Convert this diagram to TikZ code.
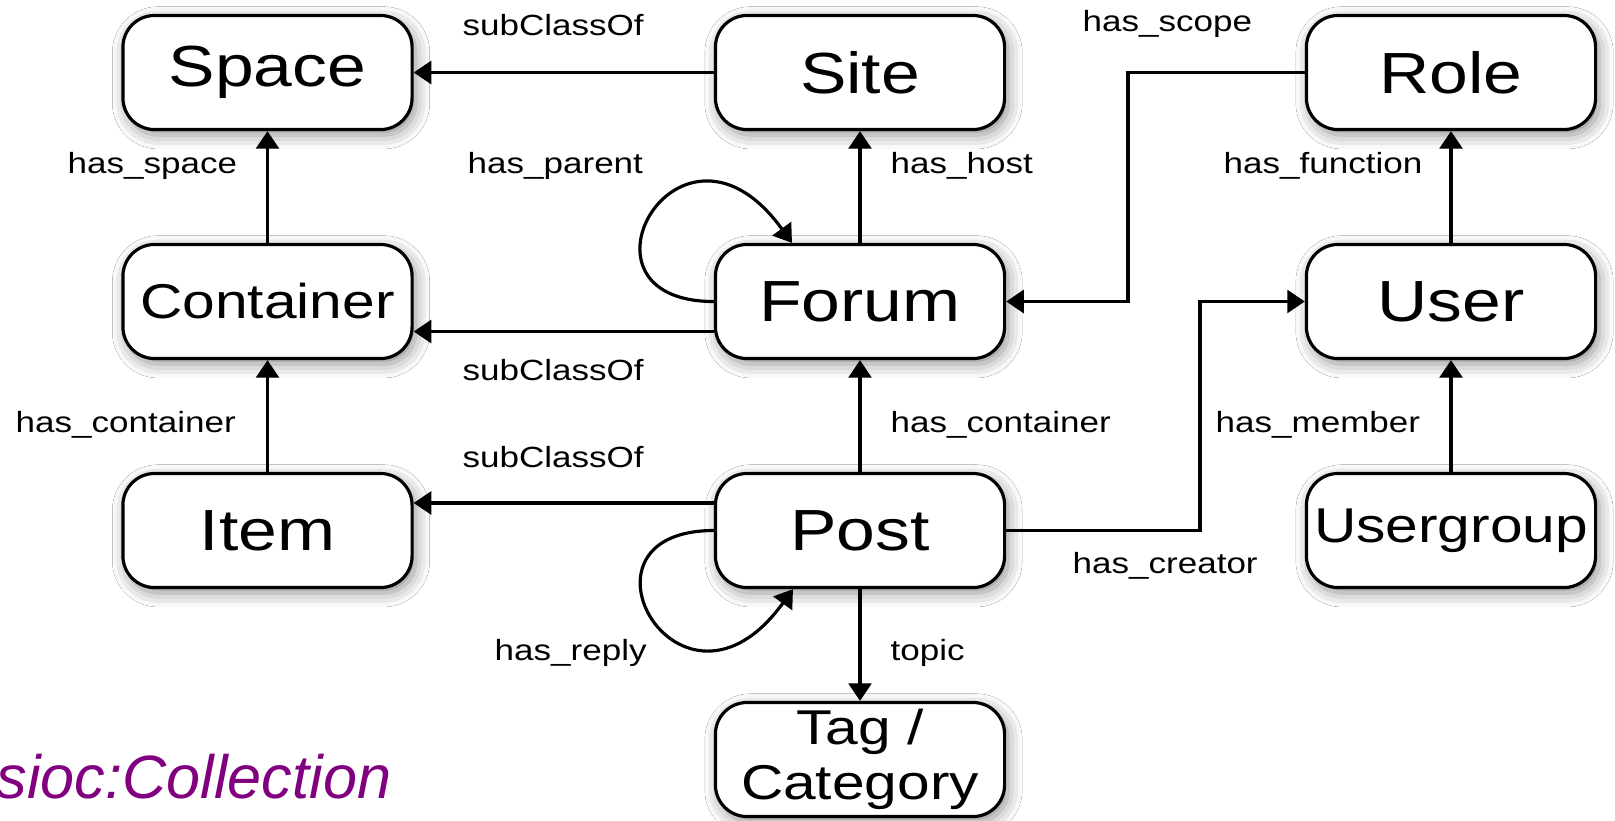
\documentclass[tikz,border=0pt]{standalone}
\usepackage{fontspec}
\setmainfont{Liberation Sans}[FakeStretch=1.2]
\newfontfamily\collfont{Liberation Sans}
\usetikzlibrary{arrows.meta,shadows.blur}

\definecolor{siocpurple}{RGB}{128,0,128}

\tikzset{
  cls/.style={draw,rounded corners=9pt,line width=0.9pt,fill=white,
    minimum width=2.89cm,minimum height=1.14cm,inner sep=0pt,
    font=\fontsize{16.5}{19}\selectfont,
    blur shadow={shadow xshift=1pt,shadow yshift=-1.5pt,
      shadow blur radius=4pt,shadow opacity=45}},
  clssmall/.style={cls,font=\fontsize{13.9}{15.6}\selectfont},
  rel/.style={font=\fontsize{8.3}{10}\selectfont,anchor=base west,inner sep=0pt},
  arr/.style={line width=0.9pt,-{Triangle[length=5pt,width=6.5pt]}}
}

\begin{document}
\begin{tikzpicture}[x=0.01cm,y=-0.01cm]
  \path[use as bounding box,fill=white] (0,0) rectangle (1615,820);

  % classes
  \node[cls] (Space) at (267.5,72.5) {Space};
  \node[cls] (Site) at (860,72.5) {Site};
  \node[cls] (Role) at (1451,72.5) {Role};
  \node[clssmall] (Container) at (267.5,301.5) {Container};
  \node[cls] (Forum) at (860,301.5) {Forum};
  \node[cls] (User) at (1451,301.5) {User};
  \node[cls] (Item) at (267.5,530.5) {Item};
  \node[cls] (Post) at (860,530.5) {Post};
  \node[clssmall] (Usergroup) at (1451,530.5) {Usergroup};
  \node[clssmall,align=center] (Tag) at (860,759.5) {Tag /\\Category};

  \coordinate (scopebend) at (1128,0);
  \coordinate (creatorbend) at (1200,0);

  % properties
  \draw[arr] (Site.west) -- (Space.east);
  \draw[arr] (Container.north) -- (Space.south);
  \draw[arr] (Forum.north) -- (Site.south);
  \draw[arr] ([yshift=-0.3cm]Forum.west) -- ([yshift=-0.3cm]Container.east);
  \draw[arr] (Forum.west) .. controls +(-155,0) and +(-112,-155) .. ([xshift=-0.68cm]Forum.north);
  \draw[arr] (Role.west) -| (scopebend |- Forum.east) -- (Forum.east);
  \draw[arr] (User.north) -- (Role.south);
  \draw[arr] (Usergroup.north) -- (User.south);
  \draw[arr] (Item.north) -- (Container.south);
  \draw[arr] ([yshift=0.275cm]Post.west) -- ([yshift=0.275cm]Item.east);
  \draw[arr] (Post.north) -- (Forum.south);
  \draw[arr] (Post.west) .. controls +(-155,0) and +(-112,155) .. ([xshift=-0.67cm]Post.south);
  \draw[arr] (Post.east) -| (creatorbend |- User.west) -- (User.west);
  \draw[arr] (Post.south) -- (Tag.north);

  % property labels
  \node[rel] (lsub1) at (462,35) {subClassOf};
  \node[rel] (lspace) at (67,173) {has\_space};
  \node[rel] (lparent) at (467,173) {has\_parent};
  \node[rel] (lhost) at (890,173) {has\_host};
  \node[rel] (lscope) at (1082,31) {has\_scope};
  \node[rel] (lfunction) at (1223,173) {has\_function};
  \node[rel] (lsub2) at (462,380) {subClassOf};
  \node[rel] (lcont1) at (15,432) {has\_container};
  \node[rel] (lsub3) at (462,467) {subClassOf};
  \node[rel] (lcont2) at (890,432) {has\_container};
  \node[rel] (lmember) at (1215,432) {has\_member};
  \node[rel] (lcreator) at (1072,573) {has\_creator};
  \node[rel] (lreply) at (494,660) {has\_reply};
  \node[rel] (ltopic) at (890,660) {topic};

  \node[anchor=base west,inner sep=0pt,text=siocpurple,
    font=\collfont\itshape\fontsize{17.4}{20}\selectfont] (collection) at (-4,798) {sioc:Collection};
\end{tikzpicture}
\end{document}
